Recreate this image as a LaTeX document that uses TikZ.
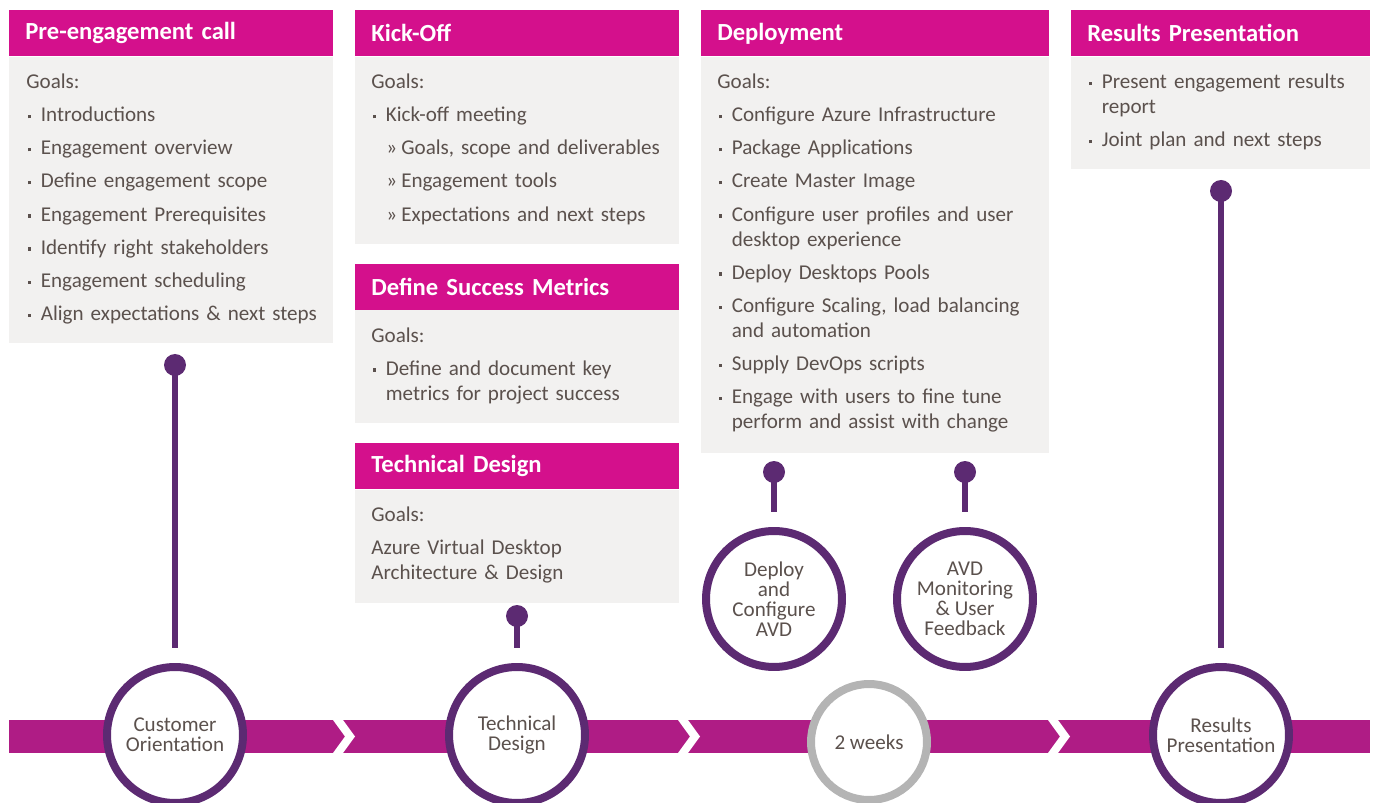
\documentclass[tikz,border=0pt]{standalone}
\usepackage{fontspec}
\setmainfont{Carlito}
\usetikzlibrary{positioning}

\definecolor{headpink}{HTML}{D4108C}
\definecolor{bandpink}{HTML}{AF1C85}
\definecolor{ringpurple}{HTML}{5C2A72}
\definecolor{boxgray}{HTML}{F2F1F0}
\definecolor{textgray}{HTML}{5B514D}
\definecolor{ringgray}{HTML}{B4B4B4}

% bullet items and sub items of the goal lists
\newcommand{\firstgoal}[1]{\noindent\hangindent=0.29cm\hangafter=1\makebox[0.29cm][l]{\hspace{0.03cm}\rule[0.07cm]{0.065cm}{0.065cm}}#1}
\newcommand{\goalitem}[1]{\par\firstgoal{#1}}
\newcommand{\subgoal}[1]{\par\noindent\hangindent=0.6cm\hangafter=1\hspace*{0.3cm}\makebox[0.3cm][l]{»}#1}

\begin{document}
\begin{tikzpicture}[x=0.02cm, y=-0.02cm]

% Styles for the boxes on top
\tikzstyle{head} = [anchor=north west, fill=headpink, text=white, font=\fontsize{14}{16}\selectfont\bfseries, minimum height=0.92cm, inner xsep=0.32cm, inner ysep=0pt, align=left]
\tikzstyle{bodybox} = [fill=boxgray, inner sep=0pt, below=0pt of #1]
\tikzstyle{goals} = [anchor=base west, inner sep=0pt, align=left, text width=7cm, text=textgray, font=\fontsize{12}{14.23}\selectfont, execute at begin node={\setlength{\parskip}{0.162cm}\hyphenpenalty=10000}]

% Styles for the time line
\tikzstyle{stage} = [circle, draw=ringpurple, line width=0.16cm, fill=white, minimum size=2.72cm, inner sep=0pt, align=center, text=textgray, font=\fontsize{12}{11.4}\selectfont]
\tikzstyle{pinhead} = [circle, fill=ringpurple, minimum size=0.44cm, inner sep=0pt]
\tikzstyle{stem} = [draw=ringpurple, line width=0.12cm, shorten >=0.3cm]

\useasboundingbox (0,0) rectangle (1376,803);

% Pre-engagement call
\node[head, text width=5.84cm] (prehead) at (9,10) {Pre-engagement call};
\node[bodybox=prehead, minimum width=6.48cm, minimum height=5.72cm] (prebox) {};
\node[goals] (pretext) at ([xshift=0.34cm, yshift=-0.64cm]prebox.north west) {Goals:
  \goalitem{Introductions}
  \goalitem{Engagement overview}
  \goalitem{Define engagement scope}
  \goalitem{Engagement Prerequisites}
  \goalitem{Identify right stakeholders}
  \goalitem{Engagement scheduling}
  \goalitem{Align expectations \& next steps}\par};

% Kick-Off, success metrics and technical design
\node[head, text width=5.84cm] (kickhead) at (355,10) {Kick-Off};
\node[bodybox=kickhead, minimum width=6.48cm, minimum height=3.74cm] (kickbox) {};
\node[goals] (kicktext) at ([xshift=0.32cm, yshift=-0.64cm]kickbox.north west) {Goals:
  \goalitem{Kick-off meeting}
  \subgoal{Goals, scope and deliverables}
  \subgoal{Engagement tools}
  \subgoal{Expectations and next steps}\par};

\node[head, text width=5.84cm, below=0.38cm of kickbox.south west, anchor=north west] (metrichead) {Define Success Metrics};
\node[bodybox=metrichead, minimum width=6.48cm, minimum height=2.26cm] (metricbox) {};
\node[goals] (metrictext) at ([xshift=0.32cm, yshift=-0.64cm]metricbox.north west) {Goals:
  \goalitem{Define and document key\newline metrics for project success}\par};

\node[head, text width=5.84cm, below=0.38cm of metricbox.south west, anchor=north west] (designhead) {Technical Design};
\node[bodybox=designhead, minimum width=6.48cm, minimum height=2.26cm] (designbox) {};
\node[goals] (designtext) at ([xshift=0.32cm, yshift=-0.64cm]designbox.north west) {Goals:\par
  Azure Virtual Desktop\newline Architecture \& Design\par};

% Deployment
\node[head, text width=6.32cm] (deployhead) at (701,10) {Deployment};
\node[bodybox=deployhead, minimum width=6.96cm, minimum height=7.92cm] (deploybox) {};
\node[goals] (deploytext) at ([xshift=0.32cm, yshift=-0.64cm]deploybox.north west) {Goals:
  \goalitem{Configure Azure Infrastructure}
  \goalitem{Package Applications}
  \goalitem{Create Master Image}
  \goalitem{Configure user profiles and user\newline desktop experience}
  \goalitem{Deploy Desktops Pools}
  \goalitem{Configure Scaling, load balancing\newline and automation}
  \goalitem{Supply DevOps scripts}
  \goalitem{Engage with users to fine tune\newline perform and assist with change}\par};

% Results Presentation
\node[head, text width=5.34cm] (resulthead) at (1071,10) {Results Presentation};
\node[bodybox=resulthead, minimum width=5.98cm, minimum height=2.24cm] (resultbox) {};
\node[goals] (resulttext) at ([xshift=0.32cm, yshift=-0.64cm]resultbox.north west) {\firstgoal{Present engagement results\newline report}
  \goalitem{Joint plan and next steps}\par};

% The band with its chevrons
\fill[bandpink] (9,720) rectangle (1370,753);
\foreach \cx in {333,678,1048}
  \fill[white] (\cx,720) -- ++(10,0) -- ++(12,16.5) -- ++(-12,16.5) -- ++(-10,0) -- ++(12,-16.5) -- cycle;

% Pins
\node[pinhead] (custpin) at (175,365) {};
\node[pinhead] (techpin) at (517,616) {};
\node[pinhead] (deploypin) at (774,472) {};
\node[pinhead] (monitorpin) at (965,472) {};
\node[pinhead] (resultpin) at (1221,191) {};

% Stages
\node[stage] (cust) at (175,735) {Customer\\Orientation};
\node[stage] (tech) at (517,735) {Technical\\Design};
\node[stage, draw=ringgray, minimum size=2.32cm] (weeks) at (869,742) {2 weeks};
\node[stage] (result) at (1221,735) {Results\\Presentation};
\node[stage] (deploy) at (774,599) {Deploy\\and\\Configure\\AVD};
\node[stage] (monitor) at (965,599) {AVD\\Monitoring\\\& User\\Feedback};

\draw[stem] (custpin.center) -- (cust);
\draw[stem] (techpin.center) -- (tech);
\draw[stem] (deploypin.center) -- (deploy);
\draw[stem] (monitorpin.center) -- (monitor);
\draw[stem] (resultpin.center) -- (result);

\end{tikzpicture}
\end{document}
